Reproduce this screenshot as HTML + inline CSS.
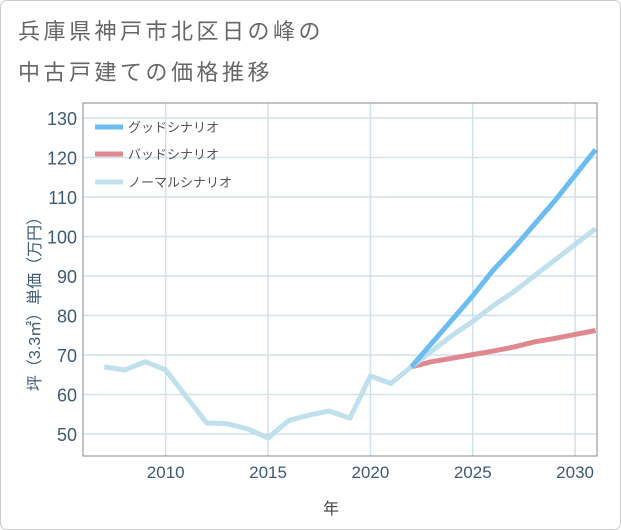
<!DOCTYPE html>
<html><head><meta charset="utf-8"><style>
body{margin:0;background:#fff;}
svg{display:block;font-family:"Liberation Sans","Noto Sans CJK JP",sans-serif;}
</style></head><body>
<svg id="c" width="621" height="530" viewBox="0 0 621 530">
<rect x="0.5" y="0.5" width="620" height="529" rx="6" fill="#fff" stroke="#ccc"/>
<text x="18" y="39" font-size="22" letter-spacing="3.5" fill="#666">兵庫県神戸市北区日の峰の</text>
<text x="18" y="80" font-size="22" letter-spacing="3.5" fill="#666">中古戸建ての価格推移</text>
<g id="grid"></g>
<g id="axes"></g>
<g id="series"></g>
<rect x="83" y="103" width="514" height="353" fill="none" stroke="#888" stroke-width="1"/>
<g>
<g><line x1="95" y1="127" x2="123" y2="127" stroke="#6bbcf0" stroke-width="5"/><text x="128" y="132" font-size="13" fill="#555">グッドシナリオ</text></g>
<g><line x1="95" y1="154" x2="123" y2="154" stroke="#e08890" stroke-width="5"/><text x="128" y="159" font-size="13" fill="#555">バッドシナリオ</text></g>
<g><line x1="95" y1="182" x2="123" y2="182" stroke="#bfe0ec" stroke-width="5"/><text x="128" y="187" font-size="13" fill="#555">ノーマルシナリオ</text></g>
</g>
<text x="331" y="514" font-size="16" fill="#444" text-anchor="middle">年</text>
<text transform="translate(40,300) rotate(-90)" font-size="16" fill="#3d5a75" text-anchor="middle">坪（3.3㎡）単価（万円）</text>
</svg>
<script>
const histYears=[2007,2008,2009,2010,2011,2012,2013,2014,2015,2016,2017,2018,2019,2020,2021,2022];
const histValues=[67.0,66.2,68.3,66.2,59.5,52.8,52.6,51.3,49.0,53.4,54.8,55.8,54.0,64.7,62.8,67.0];
const futYears=[2022,2023,2024,2025,2026,2027,2028,2029,2030,2031];
const goodValues=[67,73,79,85,91.5,97,103,109,115.5,122];
const badValues=[67,68.3,69.2,70.1,71,72,73.3,74.2,75.2,76.2];
const normalValues=[67,71,75,78.5,82.5,86,90,94,98,102];
const yTicks=[50,60,70,80,90,100,110,120,130];
const xTicks=[2010,2015,2020,2025,2030];
const NS="http://www.w3.org/2000/svg";
const X=y=>165.7+(y-2010)*20.47;
const Y=v=>434-(v-50)*3.95;
const grid=document.getElementById('grid'),axes=document.getElementById('axes'),ser=document.getElementById('series');
function mk(tag,attrs,parent){const e=document.createElementNS(NS,tag);for(const k in attrs)e.setAttribute(k,attrs[k]);parent.appendChild(e);return e;}
yTicks.forEach(v=>{
 const l=mk('line',{x1:83,x2:597,y1:Y(v),y2:Y(v),stroke:'#d3e1ec','stroke-width':1.5},grid);
 
 
 const t=mk('text',{x:77,y:Y(v)+7,'font-size':18,fill:'#3d5a75','text-anchor':'end'},axes);
 t.textContent=v;
 
 
});
xTicks.forEach(v=>{
 const l=mk('line',{x1:X(v),x2:X(v),y1:103,y2:456,stroke:'#d3e1ec','stroke-width':1.5},grid);
 
 
 const t=mk('text',{x:X(v),y:478,'font-size':17,fill:'#3d5a75','text-anchor':'middle'},axes);
 t.textContent=v;
 
 
});
function line(xs,vs,color,name){
 const p=mk('polyline',{points:xs.map((x,i)=>X(x)+','+Y(vs[i])).join(' '),fill:'none',stroke:color,'stroke-width':5,'stroke-linejoin':'round'},ser);
 
 
}
line(futYears,badValues,'#e08890','bad-scenario-line');
line(futYears,normalValues,'#bfe0ec','normal-scenario-line');
line(futYears,goodValues,'#6bbcf0','good-scenario-line');
line(histYears,histValues,'#bfe0ec','historical-line');
</script>
</body></html>
